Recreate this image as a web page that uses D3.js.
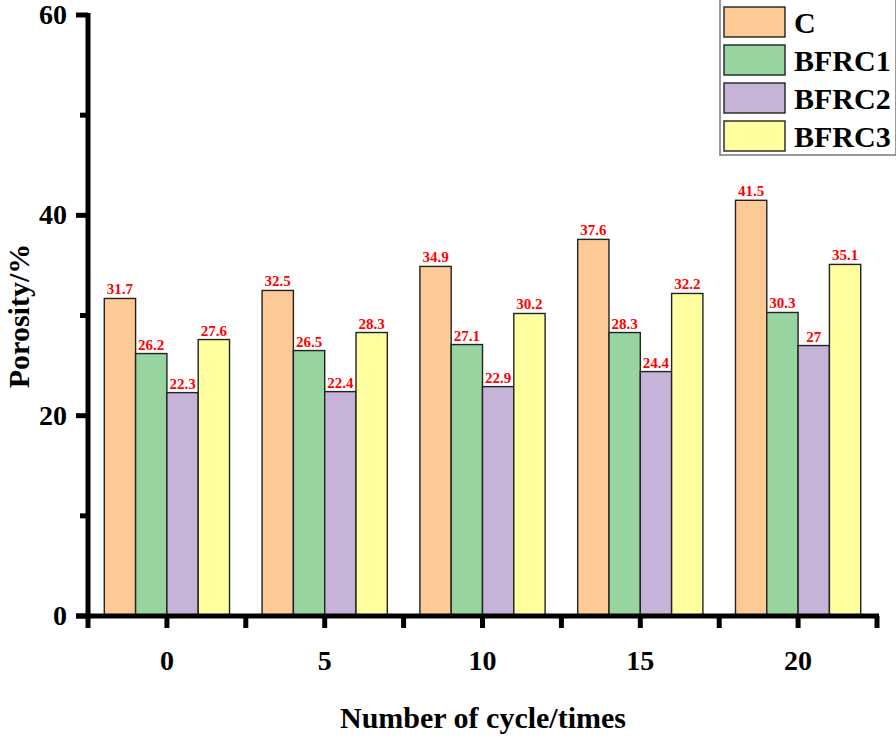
<!DOCTYPE html>
<html><head><meta charset="utf-8">
<script src="https://cdn.jsdelivr.net/npm/d3@7"></script>
<style>body{margin:0;background:#fff}svg{display:block}</style>
</head><body>
<script>
const categories = ["0","5","10","15","20"];
const seriesNames = ["C","BFRC1","BFRC2","BFRC3"];
const C = [31.7, 32.5, 34.9, 37.6, 41.5];
const BFRC1 = [26.2, 26.5, 27.1, 28.3, 30.3];
const BFRC2 = [22.3, 22.4, 22.9, 24.4, 27];
const BFRC3 = [27.6, 28.3, 30.2, 32.2, 35.1];
const labels = [
  ["31.7","32.5","34.9","37.6","41.5"],
  ["26.2","26.5","27.1","28.3","30.3"],
  ["22.3","22.4","22.9","24.4","27"],
  ["27.6","28.3","30.2","32.2","35.1"]
];
const yTicks = [0,20,40,60];
const yMinor = [10,30,50];
const colors = ["#FDC994","#98D4A0","#C5B3D8","#FFFFA0"];
const series = [C,BFRC1,BFRC2,BFRC3];

const W=896,H=738;
const svg=d3.select("body").append("svg").attr("width",W).attr("height",H);
const font="'Liberation Serif','Times New Roman',serif";
const x0=88,x1=877,yTop=15,yBot=616;
const x=d3.scaleBand().domain(categories).range([x0,x1]).paddingInner(0).paddingOuter(0);
const xs=d3.scaleBand().domain(seriesNames).range([0,x.bandwidth()]).paddingOuter(0.52).paddingInner(0);
const y=d3.scaleLinear().domain([0,60]).range([yBot,yTop]);

// bars
series.forEach((vals,si)=>{
  svg.append("g").selectAll("rect").data(vals).join("rect")
    .attr("x",(d,i)=>x(categories[i])+xs(seriesNames[si]))
    .attr("y",d=>y(d))
    .attr("width",xs.bandwidth())
    .attr("height",d=>y(0)-y(d))
    .attr("fill",colors[si]).attr("stroke","#222").attr("stroke-width",1.4);
  svg.append("g").selectAll("text").data(vals).join("text")
    .attr("x",(d,i)=>x(categories[i])+xs(seriesNames[si])+xs.bandwidth()/2)
    .attr("y",d=>y(d)-4)
    .attr("text-anchor","middle")
    .attr("font-family",font).attr("font-weight","bold").attr("font-size",15)
    .attr("fill","#ff0000")
    .text((d,i)=>labels[si][i]);
});

// y axis
const gy=svg.append("g");
gy.append("line").attr("x1",x0).attr("x2",x0).attr("y1",yTop-2).attr("y2",yBot+2).attr("stroke","#000").attr("stroke-width",5);
gy.selectAll(".t").data(yTicks).join("line").attr("x1",x0-12).attr("x2",x0).attr("y1",d=>y(d)).attr("y2",d=>y(d)).attr("stroke","#000").attr("stroke-width",5);
gy.selectAll(".m").data(yMinor).join("line").attr("x1",x0-8).attr("x2",x0).attr("y1",d=>y(d)).attr("y2",d=>y(d)).attr("stroke","#000").attr("stroke-width",5);
gy.selectAll("text").data(yTicks).join("text").attr("x",x0-21).attr("y",d=>y(d)+9)
  .attr("text-anchor","end").attr("font-family",font).attr("font-weight","bold").attr("font-size",28).text(d=>d);

// x axis
const gx=svg.append("g");
gx.append("line").attr("x1",x0-12).attr("x2",x1+2).attr("y1",yBot).attr("y2",yBot).attr("stroke","#000").attr("stroke-width",5);
gx.selectAll(".t").data(categories).join("line").attr("x1",d=>x(d)+x.bandwidth()/2).attr("x2",d=>x(d)+x.bandwidth()/2).attr("y1",yBot).attr("y2",yBot+12).attr("stroke","#000").attr("stroke-width",5);
const edges=categories.map(d=>x(d)).concat([x1]);
gx.selectAll(".m").data(edges).join("line").attr("x1",d=>d).attr("x2",d=>d).attr("y1",yBot).attr("y2",yBot+12).attr("stroke","#000").attr("stroke-width",5);
gx.selectAll("text").data(categories).join("text").attr("x",d=>x(d)+x.bandwidth()/2).attr("y",670)
  .attr("text-anchor","middle").attr("font-family",font).attr("font-weight","bold").attr("font-size",28).text(d=>d);

// titles
svg.append("text").attr("x",483).attr("y",728).attr("text-anchor","middle").attr("font-family",font).attr("font-weight","bold").attr("font-size",30).text("Number of cycle/times");
svg.append("text").attr("transform","translate(29,316) rotate(-90)").attr("text-anchor","middle").attr("font-family",font).attr("font-weight","bold").attr("font-size",30).text("Porosity/%");

// legend
const lg=svg.append("g");
lg.append("rect").attr("x",720).attr("y",-2).attr("width",176).attr("height",157).attr("fill","#fff").attr("stroke","#777").attr("stroke-width",1.5);
seriesNames.forEach((n,i)=>{
  const yy=7+i*38;
  lg.append("rect").attr("x",724).attr("y",yy).attr("width",61).attr("height",30).attr("fill",colors[i]).attr("stroke","#222").attr("stroke-width",1.4);
  lg.append("text").attr("x",794).attr("y",yy+26).attr("font-family",font).attr("font-weight","bold").attr("font-size",30).text(n);
});
</script>
</body></html>
